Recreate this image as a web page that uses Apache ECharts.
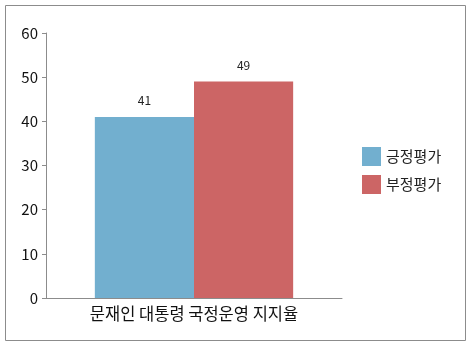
<!DOCTYPE html>
<html><head><meta charset="utf-8">
<script src="https://cdn.jsdelivr.net/npm/echarts@6/dist/echarts.min.js"></script>
<style>html,body{margin:0;padding:0;background:#fff}#c{width:472px;height:347px}</style>
</head><body><div id="c"></div>
<script>
var categories = ['문재인 대통령 국정운영 지지율'];
var positive = [41];
var negative = [49];
var seriesNames = ['긍정평가', '부정평가'];
var yTicks = [0, 10, 20, 30, 40, 50, 60];

var font = '"Noto Sans CJK KR", "Noto Sans", sans-serif';
var chart = echarts.init(document.getElementById('c'), null, {renderer: 'canvas'});
chart.setOption({
  animation: false,
  textStyle: {fontFamily: font},
  graphic: [{type: 'rect', shape: {x: 5.5, y: 5.5, width: 460, height: 335}, style: {fill: 'none', stroke: '#8c8c8c', lineWidth: 1}, silent: true}],
  grid: {left: 46, right: 130, top: 33, bottom: 49},
  legend: {
    orient: 'vertical', left: 362, top: 147, padding: 0, itemWidth: 19, itemHeight: 19, itemGap: 9,
    icon: 'rect',
    textStyle: {fontSize: 15, color: '#222', fontFamily: font},
    data: seriesNames
  },
  xAxis: {
    type: 'category', data: categories,
    axisLine: {lineStyle: {color: '#8c8c8c'}},
    axisTick: {show: false},
    axisLabel: {fontSize: 16.5, color: '#111', margin: 7, fontFamily: font}
  },
  yAxis: {
    type: 'value', min: yTicks[0], max: yTicks[yTicks.length - 1], interval: 10,
    axisLine: {show: true, lineStyle: {color: '#8c8c8c'}},
    axisTick: {show: true, length: 4, lineStyle: {color: '#8c8c8c'}},
    splitLine: {show: false},
    axisLabel: {fontSize: 15, color: '#111', margin: 8, fontFamily: font}
  },
  series: [
    {name: seriesNames[0], type: 'bar', data: positive, barGap: '0%', barCategoryGap: '33%',
     itemStyle: {color: '#72afcf'},
     label: {show: true, position: 'top', fontSize: 12, color: '#222', distance: 10}},
    {name: seriesNames[1], type: 'bar', data: negative, barGap: '0%', barCategoryGap: '33%',
     itemStyle: {color: '#cc6565'},
     label: {show: true, position: 'top', fontSize: 12, color: '#222', distance: 10}}
  ]
});
</script></body></html>
